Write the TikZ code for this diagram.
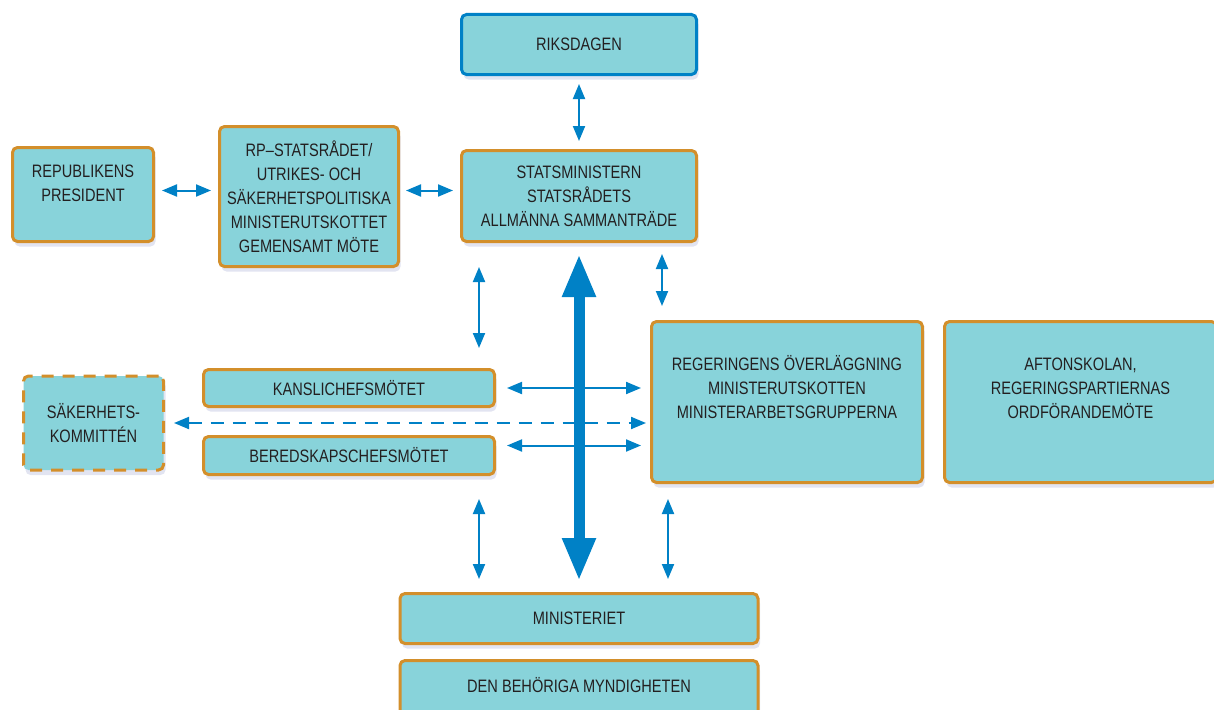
\documentclass[tikz,border=0pt]{standalone}
\usepackage{fontspec}
\setmainfont{Liberation Sans}[FakeStretch=0.81]
\usetikzlibrary{arrows.meta}
\usetikzlibrary{calc}
\usetikzlibrary{shadows}
\usepackage{xcolor}

\definecolor{boxfill}{HTML}{88D3DA}
\definecolor{boxline}{HTML}{D38F2B}
\definecolor{flowblue}{HTML}{0081C6}
\definecolor{ink}{HTML}{231F20}
\definecolor{shade}{HTML}{E2E4F1}

\tikzset{
  txt/.style={align=center, text=ink, font=\fontsize{18}{24}\selectfont, inner sep=0pt},
  box/.style={txt, draw=boxline, line width=3pt, fill=boxfill, rounded corners=5pt,
    drop shadow={shadow xshift=2pt, shadow yshift=-5pt, fill=shade, opacity=1}},
  link/.style={draw=flowblue, line width=2pt, {Triangle[length=15pt,width=12pt]}-{Triangle[length=15pt,width=12pt]}},
}

\begin{document}
\begin{tikzpicture}[x=1pt, y=-1pt]

        \useasboundingbox (0,0) rectangle (1214,709);

        % Boxes
        \node[box, draw=flowblue, minimum width=235pt, minimum height=60pt] (riks) at (579,44.5) {RIKSDAGEN};
        \node[box, text depth=22pt, minimum width=141pt, minimum height=94pt] (pres) at (83,194.5) {REPUBLIKENS\\PRESIDENT};
        \node[box, minimum width=179pt, minimum height=140pt] (rp) at (309,196.5)
          {RP--STATSRÅDET/\\UTRIKES- OCH\\SÄKERHETSPOLITISKA\\MINISTERUTSKOTTET\\GEMENSAMT MÖTE};
        \node[box, minimum width=235pt, minimum height=91pt] (sm) at (579,196)
          {STATSMINISTERN\\STATSRÅDETS\\ALLMÄNNA SAMMANTRÄDE};
        \node[box, minimum width=271pt, minimum height=161pt] (reg) at (787,402) {};
        \node[txt] (regtext) at ($(reg.center)+(0,-15)$)
          {REGERINGENS ÖVERLÄGGNING\\MINISTERUTSKOTTEN\\MINISTERARBETSGRUPPERNA};
        \node[box, minimum width=272pt, minimum height=161pt] (afton) at (1080.5,402) {};
        \node[txt] (aftontext) at ($(afton.center)+(0,-14)$)
          {AFTONSKOLAN,\\REGERINGSPARTIERNAS\\ORDFÖRANDEMÖTE};
        \node[box, dash pattern=on 12pt off 9pt, minimum width=140pt, minimum height=94pt] (sak) at (93.5,423)
          {SÄKERHETS-\\KOMMITTÉN};
        \node[box, minimum width=291pt, minimum height=37pt] (kansli) at (349,388) {KANSLICHEFSMÖTET};
        \node[box, minimum width=291pt, minimum height=38pt] (bered) at (349,455.5) {BEREDSKAPSCHEFSMÖTET};
        \node[box, minimum width=358pt, minimum height=50pt] (min) at (579,618.5) {MINISTERIET};
        \node[box, text depth=12pt, minimum width=358pt, minimum height=60pt] (myn) at (579,690.5) {DEN BEHÖRIGA MYNDIGHETEN};

        % Lanes for the thin vertical arrows
        \coordinate (lane1) at ($(sm.south west)+(19,0)$);
        \coordinate (lane2) at ($(sm.south east)+(-36,0)$);
        \coordinate (lane3) at ($(reg.south west)+(18,0)$);
        \coordinate (row1) at ($(pres.east)+(0,-4)$);

        % Upper arrows
        \draw[link, shorten <=8pt, shorten >=8pt] (riks) -- (sm);
        \draw[link, shorten <=7pt, shorten >=7pt] (row1) -- (row1 -| rp.west);
        \draw[link, shorten <=6pt, shorten >=7pt] (rp.east |- row1) -- (row1 -| sm.west);
        \draw[link, shorten <=24pt, shorten >=20pt] (lane1) -- (lane1 |- kansli.north);
        \draw[link, shorten <=11pt, shorten >=14pt] (lane2) -- (lane2 |- reg.north);

        % Middle arrows
        \draw[link, shorten <=11pt, shorten >=9pt] (kansli.east) -- (kansli.east -| reg.west);
        \draw[link, shorten <=11pt, shorten >=9pt] ([yshift=10pt]bered.east) -- ([yshift=10pt]bered.east -| reg.west);
        \draw[link, dash pattern=on 13pt off 9pt, shorten <=9pt, shorten >=4pt] (sak.east) -- (sak.east -| reg.west);

        % Lower arrows
        \draw[link, shorten <=23pt, shorten >=13pt] (lane1 |- bered.south) -- (lane1 |- min.north);
        \draw[link, shorten <=15pt, shorten >=13pt] (lane3) -- (lane3 |- min.north);

        % Main channel
        \draw[draw=flowblue, line width=11pt, {Triangle[length=43pt,width=31pt]}-{Triangle[length=43pt,width=31pt]},
          shorten <=11pt, shorten >=11pt] (sm) -- (min);

\end{tikzpicture}
\end{document}
